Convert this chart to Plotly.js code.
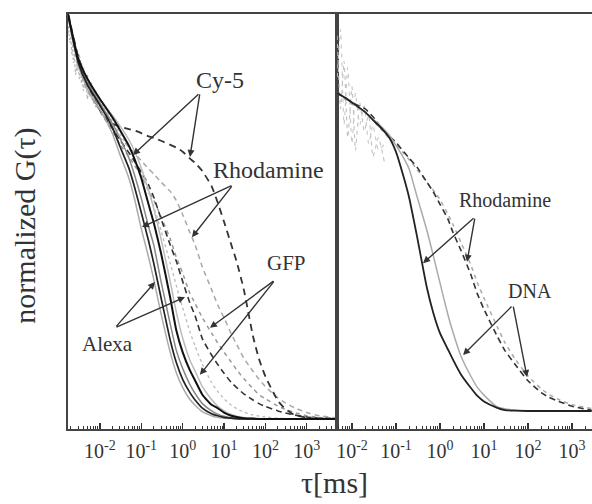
<!DOCTYPE html>
<html>
<head>
<meta charset="utf-8">
<script src="https://cdn.plot.ly/plotly-3.0.1.min.js"></script>
<style>html,body{margin:0;padding:0;background:#fff;}#chart{width:592px;height:504px;}</style>
</head>
<body>
<div id="chart"></div>
<script>
// ---- data ----
const tauL = [0.0017,0.003,0.005,0.01,0.02,0.03,0.05,0.07,0.1,0.15,0.2,0.3,0.5,0.7,1,1.5,2,3,5,7,10,15,20,30,50,70,100,200,300,500,1000,2000,5000];
const solidA = [1.0,0.875,0.815,0.765,0.705,0.655,0.595,0.54,0.47,0.40,0.345,0.26,0.165,0.115,0.078,0.048,0.034,0.018,0.008,0.004,0.002,0.001,0,0,0,0,0,0,0,0,0,0,0];
const solidB = [1.0,0.88,0.825,0.775,0.72,0.675,0.62,0.57,0.51,0.44,0.385,0.30,0.195,0.14,0.098,0.065,0.047,0.027,0.013,0.008,0.004,0.002,0.001,0,0,0,0,0,0,0,0,0,0];
const solidC = [1.0,0.885,0.83,0.78,0.73,0.695,0.645,0.60,0.545,0.475,0.43,0.34,0.235,0.17,0.125,0.085,0.063,0.038,0.02,0.012,0.007,0.003,0.002,0.001,0,0,0,0,0,0,0,0,0];
const solidD = [1.0,0.89,0.84,0.79,0.745,0.715,0.675,0.64,0.595,0.53,0.485,0.41,0.30,0.22,0.165,0.12,0.095,0.06,0.035,0.027,0.016,0.008,0.005,0.002,0.001,0,0,0,0,0,0,0,0];
const solidI = [1.0,0.89,0.84,0.79,0.75,0.725,0.69,0.66,0.62,0.565,0.52,0.445,0.34,0.265,0.2,0.145,0.118,0.08,0.048,0.032,0.02,0.011,0.007,0.004,0.002,0.001,0,0,0,0,0,0,0];
const dotJ   = [1.0,0.885,0.83,0.78,0.735,0.705,0.67,0.64,0.605,0.56,0.525,0.465,0.385,0.33,0.275,0.215,0.18,0.135,0.09,0.068,0.05,0.034,0.026,0.017,0.01,0.007,0.005,0.002,0.001,0,0,0,0];
const dashE  = [1.0,0.895,0.83,0.775,0.73,0.722,0.716,0.712,0.706,0.698,0.694,0.687,0.677,0.67,0.66,0.643,0.632,0.612,0.575,0.535,0.487,0.43,0.39,0.32,0.205,0.148,0.105,0.045,0.025,0.010,0.003,0.001,0];
const dashF  = [1.0,0.88,0.825,0.763,0.718,0.69,0.658,0.635,0.61,0.578,0.548,0.495,0.43,0.39,0.34,0.286,0.255,0.198,0.158,0.135,0.113,0.09,0.078,0.062,0.047,0.038,0.031,0.02,0.015,0.01,0.005,0.002,0.001];
const dashG  = [1.0,0.88,0.81,0.762,0.717,0.695,0.672,0.655,0.638,0.618,0.605,0.585,0.562,0.54,0.505,0.46,0.43,0.375,0.32,0.282,0.25,0.21,0.185,0.15,0.118,0.098,0.08,0.052,0.04,0.028,0.016,0.008,0.003];
const dashH  = [1.0,0.875,0.815,0.76,0.71,0.68,0.648,0.625,0.60,0.565,0.54,0.50,0.445,0.40,0.36,0.31,0.285,0.25,0.212,0.188,0.165,0.14,0.122,0.1,0.075,0.06,0.05,0.032,0.024,0.016,0.008,0.004,0.001];
const tauNoiseL = [0.0017,0.0019,0.0021,0.0023,0.0026,0.0029,0.0032,0.0036,0.004,0.0045,0.005,0.0056,0.0063,0.007,0.008,0.009,0.01,0.012,0.014,0.016,0.018,0.02];
const noiseL1 = [0.98,0.93,0.96,0.88,0.92,0.86,0.9,0.83,0.87,0.82,0.85,0.8,0.83,0.78,0.81,0.77,0.79,0.76,0.77,0.74,0.75,0.72];
const noiseL2 = [0.95,0.99,0.9,0.94,0.85,0.89,0.84,0.88,0.81,0.84,0.79,0.83,0.79,0.81,0.77,0.8,0.76,0.78,0.74,0.76,0.73,0.74];

const tauR = [0.0046,0.007,0.01,0.02,0.03,0.05,0.07,0.1,0.15,0.2,0.3,0.5,0.7,1,1.5,2,3,5,7,10,20,30,50,100,200,300,500,1000,2800];
const rhodSolid = [1.0,0.985,0.97,0.94,0.915,0.885,0.86,0.815,0.735,0.67,0.55,0.39,0.31,0.245,0.195,0.16,0.115,0.073,0.048,0.03,0.01,0.003,0.001,0,0,0,0,0,0];
const dnaSolid  = [1.0,0.985,0.97,0.94,0.918,0.89,0.868,0.835,0.795,0.76,0.675,0.57,0.49,0.403,0.305,0.245,0.172,0.11,0.075,0.05,0.013,0.007,0.003,0.001,0,0,0,0,0];
const rhodDash  = [1.0,0.985,0.97,0.95,0.925,0.885,0.865,0.845,0.815,0.795,0.767,0.72,0.69,0.65,0.605,0.56,0.505,0.43,0.37,0.32,0.235,0.19,0.148,0.095,0.058,0.043,0.03,0.015,0.002];
const dnaDash   = [1.0,0.98,0.965,0.94,0.915,0.88,0.858,0.838,0.81,0.79,0.76,0.72,0.695,0.665,0.62,0.585,0.53,0.46,0.405,0.355,0.265,0.215,0.165,0.11,0.07,0.052,0.036,0.02,0.008];
const tauNoiseR = [0.0046,0.0055,0.0066,0.008,0.01,0.012,0.015,0.019,0.024,0.03,0.04,0.055];
const noiseR1 = [1.18,0.95,1.1,0.86,1.02,0.82,0.97,0.88,0.93,0.8,0.86,0.78];
const noiseR2 = [1.05,1.2,0.9,1.08,0.84,1.0,0.9,0.96,0.84,0.9,0.82,0.84];

const tickVals = [0.01,0.1,1,10,100,1000];
const tickText = ['10<sup>-2</sup>','10<sup>-1</sup>','10<sup>0</sup>','10<sup>1</sup>','10<sup>2</sup>','10<sup>3</sup>'];

// ---- styling ----
const FONT = '"Liberation Serif", "Times New Roman", serif';
function tr(x, y, ax, color, width, dash) {
  return {x: x, y: y, xaxis: ax === 2 ? 'x2' : 'x', yaxis: ax === 2 ? 'y2' : 'y',
    type: 'scatter', mode: 'lines', hoverinfo: 'skip',
    line: {color: color, width: width, dash: dash || 'solid', shape: 'spline', smoothing: 0.5}};
}
const traces = [
  tr(tauNoiseL, noiseL1, 1, '#b0b0b0', 1.2, '2px,2px'),
  tr(tauNoiseL, noiseL2, 1, '#b8b8b8', 1.2, '3px,2px'),
  tr(tauL, dashG, 1, '#a8a8a8', 1.5, '5px,4px'),
  tr(tauL, dashH, 1, '#999', 1.5, '4px,4px'),
  tr(tauL, dotJ, 1, '#bbb', 1.3, '3px,3px'),
  tr(tauL, dashF, 1, '#333', 1.6, '6px,4px'),
  tr(tauL, dashE, 1, '#333', 1.8, '7px,5px'),
  tr(tauL, solidI, 1, '#bbb', 1.5),
  tr(tauL, solidA, 1, '#aaa', 1.5),
  tr(tauL, solidC, 1, '#888', 1.5),
  tr(tauL, solidB, 1, '#222', 1.7),
  tr(tauL, solidD, 1, '#111', 2),
  tr(tauNoiseR, noiseR1, 2, '#c0c0c0', 1.1, '4px,4px'),
  tr(tauNoiseR, noiseR2, 2, '#c8c8c8', 1.1, '4px,5px'),
  tr(tauR, dnaDash, 2, '#aaa', 1.5, '4px,4px'),
  tr(tauR, rhodDash, 2, '#333', 1.6, '6px,4px'),
  tr(tauR, dnaSolid, 2, '#aaa', 1.5),
  tr(tauR, rhodSolid, 2, '#222', 1.8)
];

const minorTicks = [];
for (let e = -3; e <= 3; e++) for (let m = 2; m <= 9; m++) minorTicks.push(m * Math.pow(10, e));

function xax(domain, range, anchor) {
  return {type: 'log', domain: domain, range: range, anchor: anchor,
    showline: true, linecolor: '#444', linewidth: 2, mirror: true,
    ticks: 'inside', ticklen: 6, tickwidth: 1.3, tickcolor: '#333',
    tickmode: 'array', tickvals: tickVals, ticktext: tickText,
    tickfont: {family: FONT, size: 20, color: '#333'}, ticklabelstandoff: 3,
    minor: {ticks: 'inside', ticklen: 3, tickwidth: 1, tickcolor: '#333', tickmode: 'array', tickvals: minorTicks, showgrid: false},
    showgrid: false, zeroline: false, fixedrange: true};
}
function yax(range, anchor, mirror) {
  return {range: range, anchor: anchor, domain: [0, 1], showline: true, linecolor: '#444', linewidth: 2,
    mirror: mirror, showticklabels: false, ticks: '', showgrid: false, zeroline: false, fixedrange: true};
}

function label(text, x, y, size, r) {
  return {text: text, x: x, y: y, xref: r ? 'x2' : 'x', yref: r ? 'y2' : 'y', showarrow: false,
    xanchor: 'center', yanchor: 'middle', font: {family: FONT, size: size, color: '#333'}};
}
function arrow(hx, hy, tx, ty, r) {
  const xr = r ? 'x2' : 'x', yr = r ? 'y2' : 'y';
  return {text: '', x: hx, y: hy, xref: xr, yref: yr, ax: tx, ay: ty, axref: xr, ayref: yr,
    showarrow: true, arrowhead: 2, arrowsize: 1, arrowwidth: 1.4, arrowcolor: '#333', standoff: 0, startstandoff: 0};
}

const annotations = [
  label('Cy-5', 0.901, 0.837, 24),
  arrow(-1.200, 0.652, 0.418, 0.805), arrow(0.177, 0.647, 0.418, 0.805),
  label('Rhodamine', 2.085, 0.615, 24),
  arrow(-0.983, 0.474, 1.216, 0.578), arrow(0.225, 0.449, 1.216, 0.578),
  label('GFP', 2.52, 0.385, 21),
  arrow(0.660, 0.225, 2.23, 0.343), arrow(0.418, 0.109, 2.23, 0.343),
  label('Alexa', -1.804, 0.185, 21),
  arrow(-0.669, 0.338, -1.635, 0.225), arrow(0.056, 0.301, -1.635, 0.225),
  label('Rhodamine', 1.478, 0.664, 20, true),
  arrow(-0.385, 0.465, 0.796, 0.610, true), arrow(0.615, 0.469, 0.796, 0.610, true),
  label('DNA', 2.046, 0.377, 20, true),
  arrow(0.524, 0.176, 1.66, 0.333, true), arrow(1.978, 0.107, 1.66, 0.333, true),
  {text: 'τ[ms]', xref: 'paper', yref: 'paper', x: 0.5095, y: -0.130, showarrow: false,
    xanchor: 'center', yanchor: 'middle', font: {family: FONT, size: 30, color: '#333'}},
  {text: 'normalized G(τ)', xref: 'paper', yref: 'paper', x: -0.082, y: 0.49, showarrow: false, textangle: -90,
    xanchor: 'center', yanchor: 'middle', font: {family: FONT, size: 30, color: '#333'}}
];

const layout = {
  width: 592, height: 504,
  margin: {l: 68, r: 0, t: 14, b: 75, pad: 0},
  paper_bgcolor: '#fff', plot_bgcolor: '#fff', showlegend: false, hovermode: false,
  xaxis: xax([0, 0.5134], [-2.77, 3.73], 'y'),
  yaxis: yax([-0.0247, 1.0], 'x', true),
  xaxis2: xax([0.5134, 1], [-2.34, 3.455], 'y2'),
  yaxis2: yax([-0.0566, 1.2484], 'x2', false),
  annotations: annotations
};
Plotly.newPlot('chart', traces, layout, {staticPlot: true, displayModeBar: false});
</script>
</body>
</html>
